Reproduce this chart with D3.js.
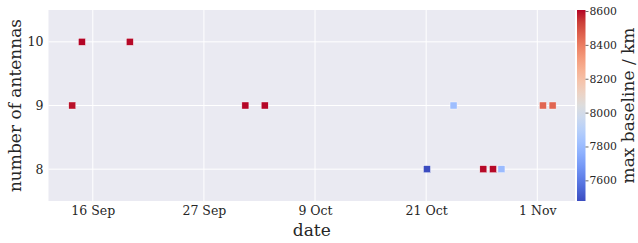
<!DOCTYPE html>
<html>
<head>
<meta charset="utf-8">
<script src="https://cdn.jsdelivr.net/npm/d3@7"></script>
<style>
  html, body { margin: 0; padding: 0; background: #fff; }
  svg text { font-family: "DejaVu Serif", "Liberation Serif", serif; fill: #262626; }
</style>
</head>
<body>
<div id="chart"></div>
<script>
const dates = [
  "2019-09-13T21:00", "2019-09-14T21:00", "2019-09-19T20:00",
  "2019-10-01T19:00", "2019-10-03T19:00", "2019-10-20T14:00",
  "2019-10-23T08:00", "2019-10-26T10:00", "2019-10-27T10:00",
  "2019-10-28T07:00", "2019-11-01T14:00", "2019-11-02T14:00"
]
const antennas = [9, 10, 10, 9, 9, 8, 9, 8, 8, 8, 9, 9]
const baseline = [8590, 8606, 8600, 8604, 8604, 7478, 7815, 8600, 8600, 7805, 8450, 8450]

const xTickDates = ["2019-09-16T00:00", "2019-09-27T12:00", "2019-10-09T00:00", "2019-10-20T12:00", "2019-11-01T00:00"]
const xTickLabels = ["16 Sep", "27 Sep", "9 Oct", "21 Oct", "1 Nov"]
const yTicks = [8, 9, 10]
const cbTicks = [7600, 7800, 8000, 8200, 8400, 8600]

// matplotlib coolwarm
const coolwarm = ["#3b4cc0", "#4d68d7", "#6282ea", "#779af7", "#8db0fe", "#a3c2ff",
  "#b8d0f9", "#ccd9ee", "#dddddd", "#ecd3c5", "#f5c4ac", "#f7b193", "#f49a7b",
  "#ec7f63", "#de604d", "#cb3e38", "#b40426"]

const parse = d3.utcParse("%Y-%m-%dT%H:%M")
const data = dates.map((d, i) => ({ date: parse(d), n: antennas[i], b: baseline[i] }))

const W = 638, H = 243
const mLeft = 48.5, mRight = 575, mTop = 10, mBottom = 201
const FONT = '"DejaVu Serif", "Liberation Serif", serif'

const svg = d3.select("#chart").append("svg")
  .attr("width", W)
  .attr("height", H)

const xScale = d3.scaleUtc()
  .domain([parse("2019-09-11T10:00"), parse("2019-11-04T21:40")])
  .range([mLeft, mRight])

const yScale = d3.scaleLinear()
  .domain([7.5, 10.5])
  .range([mBottom, mTop])

const bExt = d3.extent(baseline)
const colorScale = d3.scaleSequential(d3.interpolateRgbBasis(coolwarm))
  .domain(bExt)

// background + grid
svg.append("rect")
  .attr("x", mLeft).attr("y", mTop)
  .attr("width", mRight - mLeft).attr("height", mBottom - mTop)
  .attr("fill", "#eaeaf2")

const grid = svg.append("g").attr("class", "grid")
grid.selectAll("line.gx")
  .data(xTickDates)
  .enter()
  .append("line")
  .attr("x1", d => xScale(parse(d))).attr("x2", d => xScale(parse(d)))
  .attr("y1", mTop).attr("y2", mBottom)
  .attr("stroke", "#fff").attr("stroke-width", 1)
grid.selectAll("line.gy")
  .data(yTicks)
  .enter()
  .append("line")
  .attr("x1", mLeft).attr("x2", mRight)
  .attr("y1", d => yScale(d)).attr("y2", d => yScale(d))
  .attr("stroke", "#fff").attr("stroke-width", 1)

// axes (labels only, seaborn style)
const xAxis = d3.axisBottom(xScale)
  .tickValues(xTickDates.map(parse))
  .tickFormat((d, i) => xTickLabels[i])
  .tickSize(0).tickPadding(5)
const gX = svg.append("g")
  .attr("transform", `translate(0,${mBottom})`)
  .attr("font-family", FONT)
  .call(xAxis)
gX.select(".domain").remove()
gX.selectAll(".tick text").style("font-size", "12.5px").attr("fill", "#262626")

const yAxis = d3.axisLeft(yScale)
  .tickValues(yTicks)
  .tickFormat(d3.format("d"))
  .tickSize(0).tickPadding(5)
const gY = svg.append("g")
  .attr("transform", `translate(${mLeft},0)`)
  .call(yAxis)
gY.attr("font-family", FONT)
gY.select(".domain").remove()
gY.selectAll(".tick text").style("font-size", "12.5px").attr("fill", "#262626")

svg.append("text")
  .attr("x", (mLeft + mRight) / 2)
  .attr("y", 236)
  .attr("text-anchor", "middle")
  .style("font-size", "17px")
  .text("date")

svg.append("text")
  .attr("transform", `translate(21,${(mTop + mBottom) / 2}) rotate(-90)`)
  .attr("text-anchor", "middle")
  .style("font-size", "17px")
  .text("number of antennas")

// markers
const sz = 7
svg.append("g")
  .selectAll("rect")
  .data(data)
  .enter()
  .append("rect")
  .attr("x", d => xScale(d.date) - sz / 2)
  .attr("y", d => yScale(d.n) - sz / 2)
  .attr("width", sz).attr("height", sz)
  .attr("fill", d => colorScale(d.b))
  .attr("stroke", "#fff").attr("stroke-width", 0.4)

// colorbar
const cbX = 577, cbW = 8.5
const defs = svg.append("defs")
const grad = defs.append("linearGradient")
  .attr("id", "cbgrad")
  .attr("x1", 0).attr("y1", 1).attr("x2", 0).attr("y2", 0)
grad.selectAll("stop")
  .data(coolwarm)
  .enter()
  .append("stop")
  .attr("offset", (d, i) => i / (coolwarm.length - 1))
  .attr("stop-color", d => d)
svg.append("rect")
  .attr("x", cbX).attr("y", mTop)
  .attr("width", cbW).attr("height", mBottom - mTop)
  .attr("fill", "url(#cbgrad)")

const cbScale = d3.scaleLinear().domain(bExt).range([mBottom, mTop])
const cbAxis = d3.axisRight(cbScale)
  .tickValues(cbTicks)
  .tickFormat(d3.format("d"))
  .tickSize(3).tickPadding(1)
const gC = svg.append("g")
  .attr("transform", `translate(${cbX + cbW},0)`)
  .call(cbAxis)
gC.attr("font-family", FONT)
gC.select(".domain").remove()
gC.selectAll(".tick line").attr("stroke", "#444").attr("stroke-width", 0.8)
gC.selectAll(".tick text").style("font-size", "10.8px").attr("fill", "#262626")

svg.append("text")
  .attr("transform", `translate(634,${(mTop + mBottom) / 2}) rotate(-90)`)
  .attr("text-anchor", "middle")
  .style("font-size", "17px")
  .text("max baseline / km")
</script>
</body>
</html>
